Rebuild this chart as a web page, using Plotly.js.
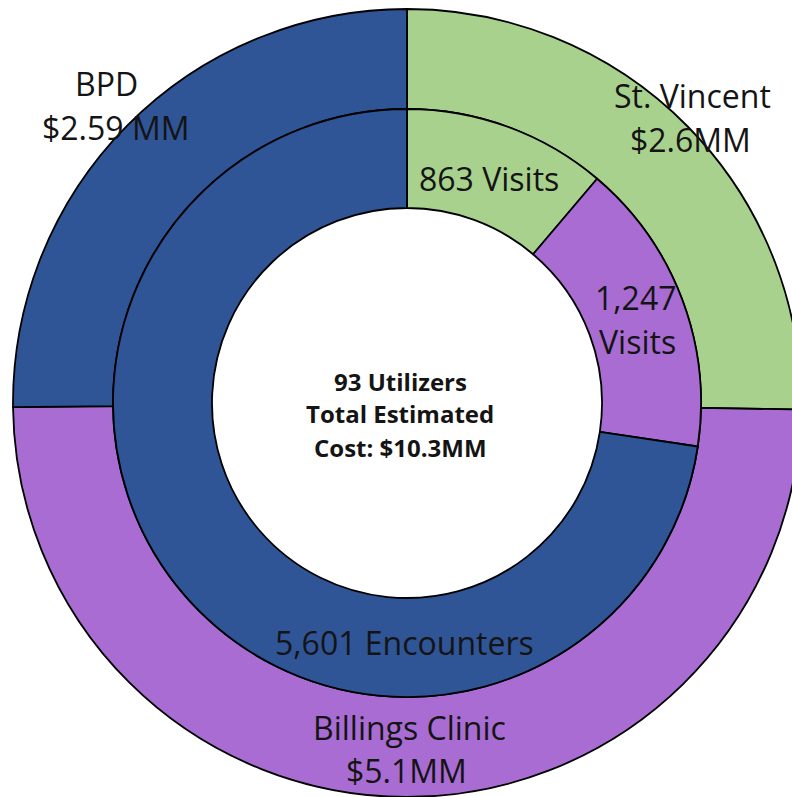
<!DOCTYPE html>
<html>
<head>
<meta charset="utf-8">
<script src="https://cdn.plot.ly/plotly-3.0.1.min.js"></script>
<style>
html,body{margin:0;padding:0;overflow:hidden;background:#fff;}
#chart{width:810px;height:797px;}
</style>
</head>
<body>
<div id="chart"></div>
<script>
// Outer ring: estimated cost by organization ($MM)
const outerLabels = ["St. Vincent", "Billings Clinic", "BPD"];
const outerValues = [2.6, 5.1, 2.59];
const outerText = ["$2.6MM", "$5.1MM", "$2.59 MM"];
// Inner ring: visits / encounters
const innerLabels = ["863 Visits", "1,247 Visits", "5,601 Encounters"];
const innerValues = [863, 1247, 5601];
const centerLines = ["93 Utilizers", "Total Estimated", "Cost: $10.3MM"];

const GREEN = "#A9D18E", PURPLE = "#A86CD3", BLUE = "#2F5597";
const W = 810, H = 797;
const px = x => x / W;
const py = y => 1 - y / H;

const font = "'Open Sans', 'Liberation Sans', sans-serif";
const txtColor = "#141414";

const outer = {
  type: "pie", values: outerValues, labels: outerLabels, sort: false,
  direction: "clockwise", rotation: 0, hole: 294 / 394,
  marker: {colors: [GREEN, PURPLE, BLUE], line: {color: "#000", width: 1.8}},
  textinfo: "none", hoverinfo: "label+value", showlegend: false,
  domain: {x: [px(13), px(801)], y: [0, py(9)]}
};
const inner = {
  type: "pie", values: innerValues, labels: innerLabels, sort: false,
  direction: "clockwise", rotation: 0, hole: 195 / 294,
  marker: {colors: [GREEN, PURPLE, BLUE], line: {color: "#000", width: 1.8}},
  textinfo: "none", hoverinfo: "label+value", showlegend: false,
  domain: {x: [px(113), px(701)], y: [py(697), py(109)]}
};

function ann(text, x, y, size, bold) {
  return {text: bold ? "<b>" + text + "</b>" : text, xref: "paper", yref: "paper",
    x: px(x), y: py(y), xanchor: "center", yanchor: "middle", showarrow: false,
    font: {family: font, size: size, color: txtColor}};
}
const LS = 32;
const annotations = [
  ann(outerLabels[2], 107, 83, LS), ann(outerText[2], 115, 128, LS),
  ann(outerLabels[0], 692, 95, LS), ann(outerText[0], 690, 140, LS),
  ann(innerLabels[0], 489, 178, LS),
  ann("1,247", 635, 297, LS), ann("Visits", 637, 341, LS),
  ann(innerLabels[2], 404, 642, LS),
  ann(outerLabels[1], 409, 727, LS), ann(outerText[1], 406, 770, LS),
  ann(centerLines[0], 400, 381, 24, true),
  ann(centerLines[1], 400, 414, 24, true),
  ann(centerLines[2], 400, 447, 24, true)
];

Plotly.newPlot("chart", [outer, inner], {
  width: W, height: H, margin: {l: 0, r: 0, t: 0, b: 0},
  paper_bgcolor: "#fff", plot_bgcolor: "#fff", showlegend: false,
  annotations: annotations
}, {staticPlot: true});
</script>
</body>
</html>
